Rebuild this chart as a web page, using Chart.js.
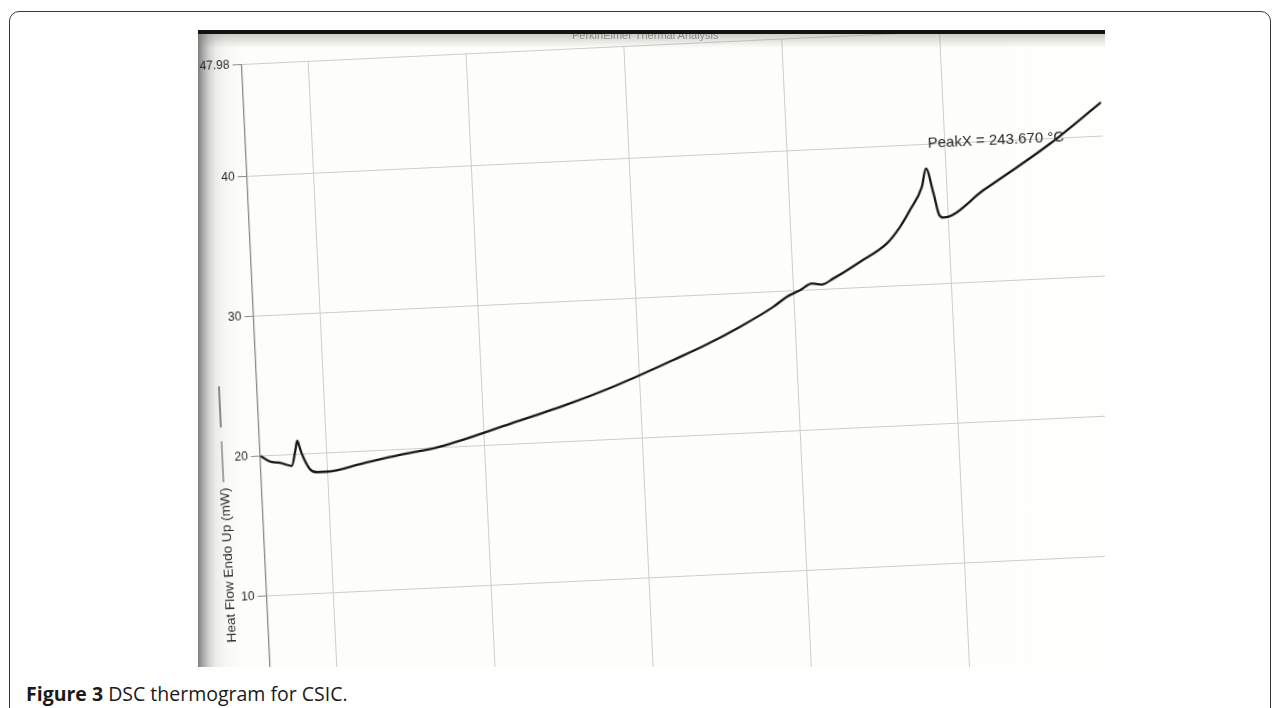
<!DOCTYPE html>
<html>
<head>
<meta charset="utf-8">
<script src="https://cdn.jsdelivr.net/npm/chart.js@4.4.1/dist/chart.umd.min.js"></script>
<style>
  html, body { margin: 0; padding: 0; background: #ffffff; }
  body { width: 1281px; height: 708px; position: relative; overflow: hidden; }
  #frame {
    position: absolute; left: 9px; top: 11px; width: 1262px; height: 730px;
    border: 1.5px solid #3a3a3a; border-radius: 10px; box-sizing: border-box;
  }
  #scan {
    position: absolute; left: 198px; top: 30px; width: 907px; height: 637px;
    overflow: hidden;
    background: linear-gradient(to right, #7d7d7d 0px, #a9a9a9 5px, #d2d2d2 11px, #ececea 18px, #f8f8f5 28px, #fdfdfa 45px, #fefefb 100%);
  }
  #sheet {
    position: absolute; left: -198px; top: -30px; width: 1281px; height: 780px;
    transform-origin: 484.2px 445.2px;
    transform: rotate(-2.7deg);
  }
  #chartCanvas { position: absolute; left: 150px; top: 20px; }
  #yTitle {
    position: absolute; left: 222px; top: 552.8px;
    transform: translate(-50%, -50%) rotate(-90deg);
    white-space: nowrap;
    font: 13.6px "Liberation Sans", Arial, sans-serif; color: #2e2e2e;
  }
  .traceKey { position: absolute; width: 2px; }
  #topTitle {
    position: absolute; left: 374px; top: -1px;
    font: 11px "Liberation Sans", Arial, sans-serif; color: #939393; white-space: nowrap;
  }
  #topBar {
    position: absolute; left: 0; top: 0; width: 907px; height: 4px; background: #101510;
  }
  #topShade {
    position: absolute; left: 0; top: 4px; width: 907px; height: 14px;
    background: linear-gradient(to bottom, rgba(120,120,110,0.35), rgba(220,220,210,0));
  }
  #caption {
    position: absolute; left: 26px; top: 680px;
    font: 19.5px "Open Sans", "Noto Sans", sans-serif; color: #1a1a1a; white-space: nowrap;
  }
  #caption b { font-weight: 700; }
</style>
</head>
<body>
<div id="frame"></div>
<div id="scan">
  <div id="sheet">
    <canvas id="chartCanvas" width="1000" height="740"></canvas>
    <div class="traceKey" style="left:221px; top:374px; height:41px; background:#8a8a8a;"></div>
    <div class="traceKey" style="left:221px; top:429px; height:41px; background:#a4a4a4;"></div>
    <div id="yTitle">Heat Flow Endo Up (mW)</div>
  </div>
  <div id="topTitle">PerkinElmer Thermal Analysis</div>
  <div id="topShade"></div>
  <div id="topBar"></div>
</div>
<div id="caption"><b>Figure 3</b> DSC thermogram for CSIC.</div>

<script>
// Sample temperature (°C)
const temperatures = [
  29.2, 32.1, 35.2, 38.9, 40.3, 41.0, 41.6, 42.2, 44.6, 46.7, 49.8,
  61.5, 73.3, 86.0, 109.0, 126.3, 139.5, 150.3, 161.0, 171.8, 182.6,
  193.4, 197.8, 202.1, 205.9, 209.0, 212.8, 221.5, 230.2, 234.6, 238.0,
  242.1, 243.67, 245.7, 247.2, 248.5, 261.5, 283.3, 300.0
];
// Heat flow, endo up (mW)
const heatFlow = [
  19.99, 19.55, 19.44, 19.17, 20.30, 20.95, 20.52, 20.04, 18.87, 18.64, 18.64,
  19.12, 19.59, 20.04, 21.47, 22.59, 23.57, 24.48, 25.44, 26.44, 27.59,
  28.90, 29.57, 30.00, 30.44, 30.33, 30.72, 31.82, 33.04, 34.17, 35.34,
  36.96, 38.25, 36.45, 34.88, 34.70, 36.51, 39.62, 42.40
];
// Annotated melting peak
const peakTemperature = 243.67;
// Axis ticks / grid positions
const yTickValues = [10, 20, 30, 40, 47.98];
const xGridTemperatures = [50, 100, 150, 200, 250];

const points = temperatures.map((t, i) => ({ x: t, y: heatFlow[i] }));

const peakLabel = {
  id: 'peakLabel',
  afterDatasetsDraw(chart) {
    const idx = temperatures.indexOf(peakTemperature);
    if (idx < 0) return;
    const xs = chart.scales.x, ys = chart.scales.y;
    const px = xs.getPixelForValue(temperatures[idx]);
    const py = ys.getPixelForValue(heatFlow[idx]);
    const ctx = chart.ctx;
    ctx.save();
    ctx.font = '15px "Liberation Sans", Arial, sans-serif';
    ctx.fillStyle = '#262626';
    ctx.textAlign = 'left';
    ctx.textBaseline = 'alphabetic';
    ctx.fillText('PeakX = ' + peakTemperature.toFixed(3) + ' °C', px + 3, py - 21);
    ctx.restore();
  }
};

new Chart(document.getElementById('chartCanvas'), {
  type: 'line',
  data: {
    datasets: [{
      data: points,
      borderColor: '#161616',
      borderWidth: 2.3,
      pointRadius: 0,
      fill: false,
      cubicInterpolationMode: 'monotone'
    }]
  },
  options: {
    responsive: false,
    devicePixelRatio: 1,
    animation: false,
    layout: { padding: { left: 29.7, top: 33.5, right: 33.4, bottom: 34.8 } },
    plugins: { legend: { display: false }, tooltip: { enabled: false }, title: { display: false } },
    scales: {
      x: {
        type: 'linear',
        min: 29,
        max: 300,
        afterBuildTicks: (s) => { s.ticks = xGridTemperatures.map(v => ({ value: v })); },
        afterFit: (s) => { s.height = 0; },
        ticks: { display: false },
        grid: { color: '#cdcdcd', lineWidth: 1, drawTicks: false },
        border: { display: false }
      },
      y: {
        type: 'linear',
        min: 0,
        max: 47.98,
        afterBuildTicks: (s) => { s.ticks = yTickValues.map(v => ({ value: v })); },
        afterFit: (s) => { s.width = 80; },
        ticks: {
          color: '#262626',
          font: { family: '"Liberation Sans", Arial, sans-serif', size: 12 },
          padding: 3,
          callback: (v) => String(v)
        },
        grid: { color: '#cdcdcd', lineWidth: 1, tickLength: 9, tickColor: '#8a8a8a' },
        border: { display: true, color: '#8a8a8a', width: 1.3 }
      }
    }
  },
  plugins: [peakLabel]
});
</script>
</body>
</html>
